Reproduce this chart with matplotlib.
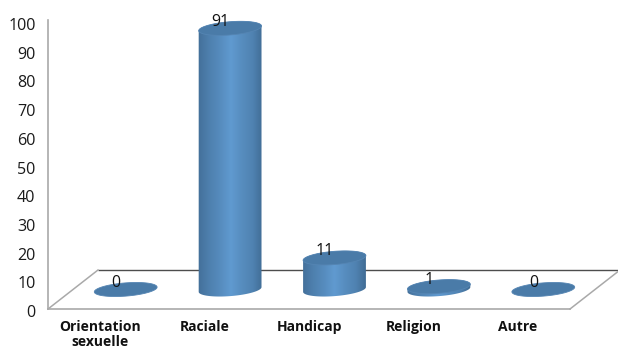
import numpy as np
import matplotlib
matplotlib.use("Agg")
import matplotlib.pyplot as plt
from matplotlib.colors import LinearSegmentedColormap
from matplotlib.path import Path
from matplotlib.patches import PathPatch
from matplotlib.transforms import Affine2D, IdentityTransform

categories = ["Orientation\nsexuelle", "Raciale", "Handicap", "Religion", "Autre"]
values = [0, 91, 11, 1, 0]
y_ticks = [0, 10, 20, 30, 40, 50, 60, 70, 80, 90, 100]

W, H = 618, 350
plt.rcParams["font.family"] = ["Open Sans", "Noto Sans", "DejaVu Sans"]

fig = plt.figure(figsize=(W / 100, H / 100), dpi=100, facecolor="white")
ax = fig.add_axes([48 / W, (H - 309) / H, 522 / W, 289 / H])
ax.set_xlim(-0.5, 4.5)
ax.set_ylim(0, 100.7)
ax.patch.set_alpha(0)

for side in ("top", "right"):
    ax.spines[side].set_visible(False)
for side in ("left", "bottom"):
    ax.spines[side].set_color("#a9a9a9")
    ax.spines[side].set_linewidth(1.2)

ax.set_yticks(y_ticks)
ax.set_xticks(range(len(categories)))
ax.set_xticklabels(categories, fontweight="bold", fontsize=10, color="#111111", linespacing=1.05)
ax.tick_params(axis="both", length=0)
ax.tick_params(axis="y", labelsize=11.6, pad=9, labelcolor="#1a1a1a")
ax.tick_params(axis="x", pad=8)

# Nudge the value labels down so their digits sit level with the scale positions
for label in ax.get_yticklabels():
    label.set_transform(label.get_transform() + Affine2D().translate(0, -2))

# Floor of the 3D box: depth offset in pixels behind the front edge
DEPTH_X, DEPTH_Y = 50, 39
depth = Affine2D().translate(DEPTH_X, DEPTH_Y)
ax.plot([-0.5, 4.5], [0, 0], transform=ax.transData + depth,
        color="#4d4d4d", lw=1.0, clip_on=False, zorder=1, solid_capstyle="butt")
for x_front in (-0.5, 4.5):
    x0, y0 = ax.transData.transform((x_front, 0))
    ax.plot([x0, x0 + DEPTH_X], [y0, y0 + DEPTH_Y], transform=IdentityTransform(),
            color="#a9a9a9", lw=1.1, clip_on=False, zorder=1)

# Cylinder geometry in pixels
SHIFT_X, SHIFT_Y = 25.5, 19.5
RX, RY = 31.5, 6.6
TILT = np.deg2rad(4.5)


def ellipse_points(cx, cy, t):
    ex, ey = RX * np.cos(t), RY * np.sin(t)
    return (cx + ex * np.cos(TILT) - ey * np.sin(TILT),
            cy + ex * np.sin(TILT) + ey * np.cos(TILT))


# Horizontal shading across the cylinder body
shade = np.interp(np.linspace(0, 6, 128), np.arange(7), [0.12, 0.45, 0.7, 1.0, 0.72, 0.5, 0.0])[None, :]
cmap = LinearSegmentedColormap.from_list("cyl", ["#3f6a92", "#609ad0"])

for i, v in enumerate(values):
    cx, y_base = ax.transData.transform((i, 0))
    cx += SHIFT_X
    y_base += SHIFT_Y
    _, y_top = ax.transData.transform((i, v))
    y_top += SHIFT_Y

    if v > 0:
        t = np.linspace(np.pi, 2 * np.pi, 60)
        xb, yb = ellipse_points(cx, y_base, t)
        t = np.linspace(0, np.pi, 60)
        xt, yt = ellipse_points(cx, y_top, t)
        verts = np.r_[np.c_[xb, yb], np.c_[xt, yt], [[xb[0], yb[0]]]]
        clip = PathPatch(Path(verts), transform=IdentityTransform(), fc="none", ec="none")
        ax.add_patch(clip)
        body = ax.imshow(shade, cmap=cmap, aspect="auto", zorder=3, vmin=0, vmax=1,
                         extent=(cx - RX - 1, cx + RX + 1, y_base - RY - 5, y_top + RY + 5),
                         transform=IdentityTransform(), interpolation="bilinear")
        body.set_clip_path(clip)

    t = np.linspace(0, 2 * np.pi, 120)
    xc, yc = ellipse_points(cx, y_top, t)
    ax.add_patch(PathPatch(Path(np.c_[xc, yc]), transform=IdentityTransform(),
                           fc="#4a7ba8", ec="#5585b3", lw=0.6, zorder=4, clip_on=False))

    ax.text(cx - 10, y_top + 6.5, str(v), transform=IdentityTransform(),
            ha="center", va="center", fontsize=11.4, color="#111111", zorder=6)

ax.set_xlim(-0.5, 4.5)
ax.set_ylim(0, 100.7)
fig.savefig("out.png", dpi=100, facecolor="white")
